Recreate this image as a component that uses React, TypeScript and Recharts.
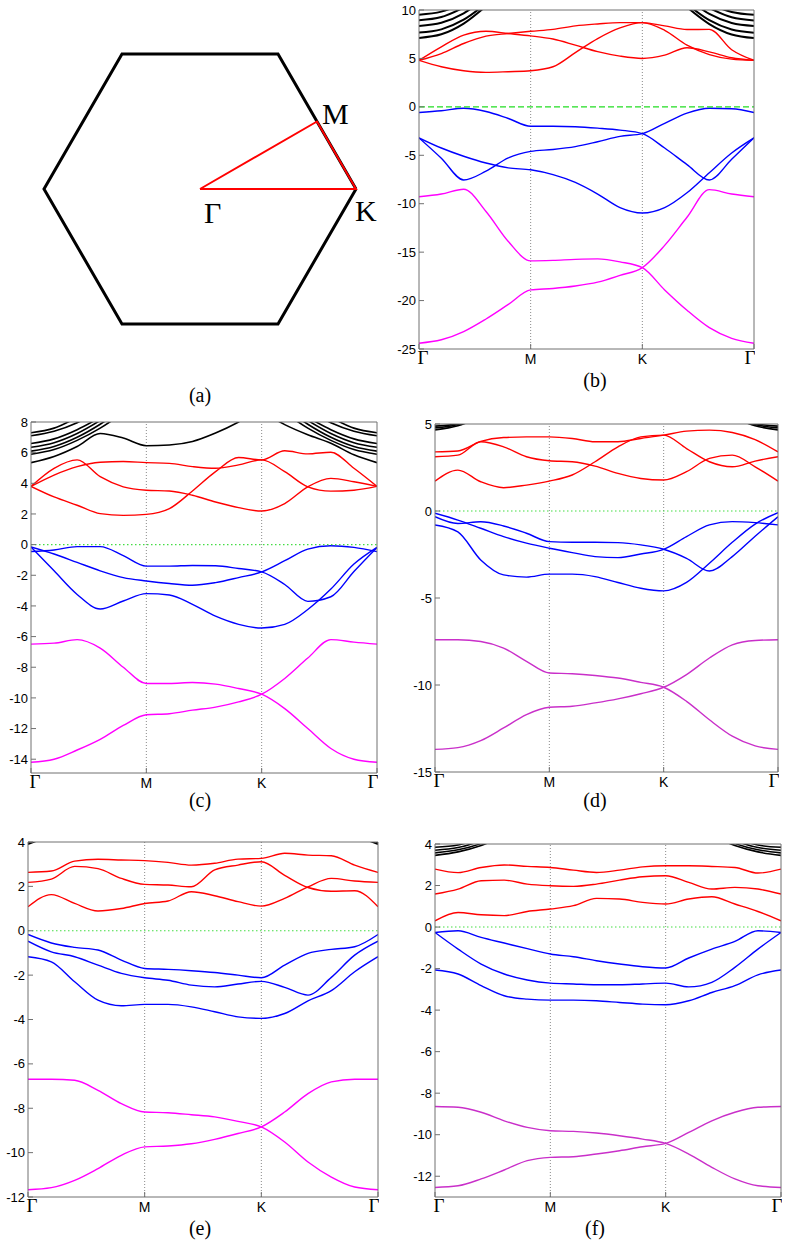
import React from 'react'
import { ComposedChart, LineChart, Line, XAxis, YAxis, ReferenceLine, Scatter } from 'recharts'

const _ = null

// k-path sampling, Γ -> M -> K -> Γ drawn with equal segment lengths
const K_PATH = [0, 0.2, 0.4, 0.6, 0.8, 1.0, 1.2, 1.4, 1.6, 1.8, 2.0, 2.2, 2.4, 2.6, 2.8, 3.0]
const K_TICKS = [0, 1, 2, 3]
const K_TICK_LABELS = ['Γ', 'M', 'K', 'Γ']
const FERMI_LEVEL = 0

// ---- panel (a): Brillouin zone
const BZ_HEX_X = [1, 0.5, -0.5, -1, -0.5, 0.5, 1]
const BZ_HEX_Y = [0, 0.866, 0.866, 0, -0.866, -0.866, 0]
const IBZ_X = [0, 0.75, 1, 0]
const IBZ_Y = [0, 0.433, 0, 0]
const BZ_POINT_NAMES = ['Γ', 'M', 'K']
const BZ_POINT_X = [0, 0.75, 1]
const BZ_POINT_Y = [0, 0.433, 0]

// ---- panel (b)
const bMagUpper = [-9.28, -9.0, -8.5, -10.8, -13.9, -15.9, -15.85, -15.75, -15.7, -16.0, -16.6, -18.9, -21.0, -22.8, -23.9, -24.4]
const bMagLower = [-24.4, -24.05, -23.2, -21.9, -20.4, -18.9, -18.75, -18.5, -18.1, -17.4, -16.6, -14.3, -11.4, -8.55, -9.0, -9.28]
const bBlue1 = [-0.58, -0.4, -0.15, -0.48, -1.2, -2.0, -2.0, -2.05, -2.2, -2.4, -2.77, -4.25, -5.96, -7.55, -5.4, -3.2]
const bBlue2 = [-3.2, -4.25, -5.1, -5.8, -6.3, -6.5, -7.0, -7.8, -9.0, -10.4, -10.96, -10.4, -8.87, -6.8, -4.76, -3.2]
const bBlue3 = [-3.2, -5.3, -7.55, -6.64, -5.27, -4.6, -4.4, -4.1, -3.6, -3.05, -2.77, -1.7, -0.65, -0.14, -0.2, -0.58]
const bRed1 = [4.8, 4.14, 3.73, 3.56, 3.63, 3.73, 4.14, 5.6, 7.05, 8.15, 8.7, 7.9, 6.37, 5.4, 4.93, 4.8]
const bRed2 = [4.8, 6.2, 7.4, 7.8, 7.57, 7.33, 7.0, 6.37, 5.7, 5.24, 5.0, 5.34, 6.1, 5.68, 5.07, 4.8]
const bRed3 = [4.8, 5.5, 6.54, 7.3, 7.57, 7.8, 8.0, 8.36, 8.56, 8.7, 8.7, 8.36, 7.98, 8.0, 5.9, 4.8]
const bBlackL1 = [9.52, 9.83, 10.7, _, _, _, _, _, _, _, _, _, _, _, _, _]
const bBlackL2 = [8.94, 9.27, 10.25, _, _, _, _, _, _, _, _, _, _, _, _, _]
const bBlackL3 = [8.36, 8.68, 9.66, 11.3, _, _, _, _, _, _, _, _, _, _, _, _]
const bBlackL4 = [7.67, 8.0, 9.0, 10.66, _, _, _, _, _, _, _, _, _, _, _, _]
const bBlackL5 = [7.12, 7.49, 8.6, 10.4, _, _, _, _, _, _, _, _, _, _, _, _]
const bBlackR1 = [_, _, _, _, _, _, _, _, _, _, _, _, _, 10.6, 9.8, 9.5]
const bBlackR2 = [_, _, _, _, _, _, _, _, _, _, _, _, _, 10.2, 9.25, 8.92]
const bBlackR3 = [_, _, _, _, _, _, _, _, _, _, _, _, 11.2, 9.6, 8.66, 8.36]
const bBlackR4 = [_, _, _, _, _, _, _, _, _, _, _, _, 10.6, 8.95, 7.98, 7.65]
const bBlackR5 = [_, _, _, _, _, _, _, _, _, _, _, _, 10.3, 8.55, 7.47, 7.1]

// ---- panel (c)
const cMagUpper = [-6.49, -6.43, -6.2, -6.75, -8.0, -9.06, -9.06, -9.0, -9.1, -9.39, -9.76, -10.7, -12.0, -13.3, -14.0, -14.2]
const cMagLower = [-14.2, -14.0, -13.4, -12.7, -11.8, -11.1, -11.03, -10.8, -10.6, -10.26, -9.76, -8.73, -7.4, -6.2, -6.36, -6.49]
const cBlue1 = [-0.45, -0.35, -0.13, -0.13, -0.72, -1.4, -1.4, -1.36, -1.38, -1.56, -1.78, -2.6, -3.7, -3.4, -1.75, -0.18]
const cBlue2 = [-0.15, -0.61, -1.16, -1.71, -2.15, -2.37, -2.54, -2.65, -2.48, -2.15, -1.78, -1.05, -0.29, -0.07, -0.18, -0.46]
const cBlue3 = [-0.15, -1.71, -3.25, -4.2, -3.68, -3.2, -3.29, -3.9, -4.67, -5.2, -5.44, -5.2, -4.23, -2.9, -1.27, -0.18]
const cRed1 = [3.8, 3.11, 2.57, 2.02, 1.91, 1.97, 2.35, 3.5, 4.76, 5.68, 5.53, 6.12, 5.92, 6.03, 4.98, 3.8]
const cRed2 = [3.8, 4.98, 5.53, 4.43, 3.77, 3.55, 3.5, 3.22, 2.78, 2.41, 2.19, 2.68, 3.77, 4.32, 4.1, 3.8]
const cRed3 = [3.8, 4.54, 5.09, 5.37, 5.42, 5.35, 5.3, 5.09, 4.98, 5.2, 5.53, 4.76, 3.77, 3.49, 3.55, 3.8]
const cBlackKink = [5.35, 5.75, 6.4, 7.25, 6.95, 6.45, 6.5, 6.73, 7.28, 8.0, 8.9, _, _, _, _, _]
const cBlackK2 = [_, _, _, _, _, _, _, _, _, _, 8.7, 7.83, 7.17, 6.62, 5.86, 5.35]
const cBlackL1 = [7.3, 7.6, 8.3, _, _, _, _, _, _, _, _, _, _, _, _, _]
const cBlackL2 = [7.1, 7.4, 7.95, 8.8, _, _, _, _, _, _, _, _, _, _, _, _]
const cBlackL3 = [6.6, 6.9, 7.5, 8.3, _, _, _, _, _, _, _, _, _, _, _, _]
const cBlackL4 = [6.35, 6.65, 7.25, 8.1, _, _, _, _, _, _, _, _, _, _, _, _]
const cBlackL5 = [6.1, 6.4, 7.0, 7.85, 8.9, _, _, _, _, _, _, _, _, _, _, _]
const cBlackL6 = [5.9, 6.2, 6.8, 7.6, 8.6, _, _, _, _, _, _, _, _, _, _, _]
const cBlackR1 = [_, _, _, _, _, _, _, _, _, _, _, _, _, 8.3, 7.6, 7.3]
const cBlackR2 = [_, _, _, _, _, _, _, _, _, _, _, _, 8.8, 7.95, 7.4, 7.1]
const cBlackR3 = [_, _, _, _, _, _, _, _, _, _, _, _, 8.3, 7.5, 6.9, 6.6]
const cBlackR4 = [_, _, _, _, _, _, _, _, _, _, _, _, 8.1, 7.25, 6.65, 6.35]
const cBlackR5 = [_, _, _, _, _, _, _, _, _, _, _, 8.9, 7.85, 7.0, 6.4, 6.1]
const cBlackR6 = [_, _, _, _, _, _, _, _, _, _, _, 8.6, 7.6, 6.8, 6.2, 5.9]

// ---- panel (d)
const dMagUpper = [-7.4, -7.4, -7.5, -7.88, -8.64, -9.31, -9.35, -9.45, -9.6, -9.85, -10.13, -10.94, -12.0, -12.94, -13.5, -13.7]
const dMagLower = [-13.7, -13.6, -13.2, -12.47, -11.7, -11.28, -11.22, -11.03, -10.8, -10.5, -10.13, -9.4, -8.45, -7.69, -7.44, -7.4]
const dBlue1 = [-0.33, -0.72, -0.62, -0.86, -1.28, -1.76, -1.8, -1.8, -1.82, -1.95, -2.2, -2.72, -3.45, -2.62, -1.45, -0.33]
const dBlue2 = [-0.13, -0.52, -0.99, -1.47, -1.85, -2.14, -2.39, -2.62, -2.68, -2.47, -2.2, -1.47, -0.8, -0.61, -0.67, -0.8]
const dBlue3 = [-0.8, -1.2, -2.81, -3.67, -3.8, -3.63, -3.63, -3.77, -4.11, -4.44, -4.59, -4.1, -3.0, -1.8, -0.75, -0.1]
const dRed1 = [3.4, 3.45, 4.0, 4.22, 4.26, 4.26, 4.17, 3.98, 3.98, 4.17, 4.36, 4.59, 4.65, 4.51, 4.1, 3.4]
const dRed2 = [3.12, 3.21, 3.98, 3.69, 3.12, 2.89, 2.83, 2.58, 2.16, 1.87, 1.78, 2.26, 3.02, 3.21, 2.54, 1.72]
const dRed3 = [1.72, 2.35, 1.68, 1.34, 1.49, 1.72, 2.07, 2.83, 3.69, 4.26, 4.36, 3.59, 2.83, 2.54, 2.87, 3.12]
const dBlackL1 = [4.88, 5.02, 5.6, _, _, _, _, _, _, _, _, _, _, _, _, _]
const dBlackL2 = [4.78, 4.97, 5.5, _, _, _, _, _, _, _, _, _, _, _, _, _]
const dBlackL3 = [4.66, 4.9, 5.4, _, _, _, _, _, _, _, _, _, _, _, _, _]
const dBlackR1 = [_, _, _, _, _, _, _, _, _, _, _, _, _, 5.6, 5.02, 4.88]
const dBlackR2 = [_, _, _, _, _, _, _, _, _, _, _, _, _, 5.5, 4.97, 4.78]
const dBlackR3 = [_, _, _, _, _, _, _, _, _, _, _, _, _, 5.4, 4.9, 4.66]

// ---- panel (e)
const eMagUpper = [-6.69, -6.69, -6.74, -7.19, -7.79, -8.17, -8.2, -8.29, -8.39, -8.59, -8.84, -9.52, -10.42, -11.1, -11.55, -11.67]
const eMagLower = [-11.67, -11.58, -11.25, -10.72, -10.12, -9.74, -9.7, -9.6, -9.4, -9.14, -8.84, -8.17, -7.34, -6.81, -6.69, -6.69]
const eBlue1 = [-0.17, -0.55, -0.75, -0.87, -1.32, -1.7, -1.74, -1.8, -1.88, -2.0, -2.12, -1.55, -1.02, -0.84, -0.72, -0.17]
const eBlue2 = [-0.47, -0.95, -1.17, -1.55, -1.92, -2.12, -2.23, -2.45, -2.53, -2.4, -2.28, -2.55, -2.9, -2.1, -1.1, -0.47]
const eBlue3 = [-1.17, -1.4, -2.3, -3.13, -3.38, -3.32, -3.32, -3.43, -3.65, -3.88, -3.95, -3.73, -3.16, -2.7, -1.85, -1.17]
const eRed1 = [2.63, 2.69, 3.14, 3.22, 3.19, 3.16, 3.08, 2.96, 3.04, 3.23, 3.26, 3.49, 3.41, 3.38, 2.96, 2.63]
const eRed2 = [2.18, 2.33, 2.9, 2.8, 2.36, 2.09, 2.06, 1.98, 2.74, 2.96, 3.11, 2.5, 1.95, 1.78, 1.8, 1.08]
const eRed3 = [1.08, 1.63, 1.23, 0.89, 1.0, 1.23, 1.34, 1.76, 1.58, 1.31, 1.11, 1.46, 1.98, 2.36, 2.24, 2.18]
const eBlackL1 = [3.9, 4.3, _, _, _, _, _, _, _, _, _, _, _, _, _, _]
const eBlackL2 = [3.96, 4.5, _, _, _, _, _, _, _, _, _, _, _, _, _, _]
const eBlackR1 = [_, _, _, _, _, _, _, _, _, _, _, _, _, _, 4.3, 3.9]
const eBlackR2 = [_, _, _, _, _, _, _, _, _, _, _, _, _, _, 4.5, 3.96]

// ---- panel (f)
const fMagUpper = [-8.64, -8.68, -8.92, -9.33, -9.65, -9.81, -9.84, -9.92, -10.05, -10.21, -10.42, -10.93, -11.57, -12.13, -12.46, -12.54]
const fMagLower = [-12.54, -12.46, -12.13, -11.7, -11.25, -11.09, -11.06, -10.93, -10.77, -10.58, -10.42, -9.89, -9.33, -8.92, -8.68, -8.64]
const fBlue1 = [-0.26, -0.18, -0.5, -0.77, -1.04, -1.3, -1.43, -1.62, -1.78, -1.91, -1.97, -1.49, -1.06, -0.69, -0.18, -0.26]
const fBlue2 = [-0.26, -1.06, -1.78, -2.26, -2.55, -2.7, -2.74, -2.78, -2.78, -2.74, -2.7, -2.88, -2.66, -1.94, -1.06, -0.26]
const fBlue3 = [-2.07, -2.26, -2.82, -3.31, -3.47, -3.52, -3.52, -3.55, -3.63, -3.71, -3.74, -3.55, -3.15, -2.82, -2.3, -2.07]
const fRed1 = [2.79, 2.62, 2.87, 2.99, 2.92, 2.87, 2.74, 2.63, 2.74, 2.9, 2.95, 2.95, 2.92, 2.87, 2.6, 2.79]
const fRed2 = [1.59, 1.83, 2.23, 2.26, 2.07, 1.99, 1.96, 2.07, 2.26, 2.42, 2.47, 2.15, 1.83, 1.91, 1.83, 1.59]
const fRed3 = [0.3, 0.7, 0.59, 0.55, 0.75, 0.87, 1.03, 1.38, 1.35, 1.19, 1.11, 1.35, 1.46, 1.11, 0.75, 0.3]
const fBlackL1 = [3.84, 3.95, 4.3, _, _, _, _, _, _, _, _, _, _, _, _, _]
const fBlackL2 = [3.7, 3.83, 4.15, _, _, _, _, _, _, _, _, _, _, _, _, _]
const fBlackL3 = [3.57, 3.72, 4.02, 4.5, _, _, _, _, _, _, _, _, _, _, _, _]
const fBlackL4 = [3.45, 3.62, 3.93, 4.4, _, _, _, _, _, _, _, _, _, _, _, _]
const fBlackR1 = [_, _, _, _, _, _, _, _, _, _, _, _, _, 4.3, 3.95, 3.84]
const fBlackR2 = [_, _, _, _, _, _, _, _, _, _, _, _, _, 4.15, 3.83, 3.7]
const fBlackR3 = [_, _, _, _, _, _, _, _, _, _, _, _, 4.5, 4.02, 3.72, 3.57]
const fBlackR4 = [_, _, _, _, _, _, _, _, _, _, _, _, 4.4, 3.93, 3.62, 3.45]

const RED = '#ff0000'
const BLUE = '#0000ff'
const MAGENTA = '#ff00ff'
const PURPLE = '#c92fc9'
const BLACK = '#000000'
const FRAME = '#707070'
const SANS = '"Liberation Sans", Arial, sans-serif'
const SERIF = '"Liberation Serif", "Times New Roman", serif'

type Band = { key: string; values: (number | null)[]; color: string }
type Rect = { x: number; y: number; w: number; h: number }

const YW = 40
const RW = 1
const TH = 10
const XH = 30

const KTick = (props: any) => {
  const { x, y, payload } = props
  const idx = K_TICKS.indexOf(payload.value)
  const label = K_TICK_LABELS[idx]
  const serif = label === 'Γ'
  const shift = idx === 0 ? 4 : idx === K_TICKS.length - 1 ? -4 : 0
  return (
    <text
      x={x + shift}
      y={y + 15}
      textAnchor="middle"
      fontFamily={serif ? SERIF : SANS}
      fontSize={serif ? 19 : 14}
      fill="#000"
    >
      {label}
    </text>
  )
}

const BandPanel = ({
  plot,
  yDomain,
  yTicks,
  bands,
  fermiDash,
  fermiColor,
  blackWidth,
}: {
  plot: Rect
  yDomain: [number, number]
  yTicks: number[]
  bands: Band[]
  fermiDash: string
  fermiColor: string
  blackWidth: number
}) => {
  const rows = K_PATH.map((x, i) => {
    const row: any = { x, ef: FERMI_LEVEL }
    bands.forEach((b) => {
      row[b.key] = b.values[i]
    })
    return row
  })

  return (
    <div style={{ position: 'absolute', left: plot.x - YW, top: plot.y - TH }}>
      <LineChart
        width={plot.w + YW + RW}
        height={plot.h + TH + XH}
        data={rows}
        margin={{ top: 0, right: 0, bottom: 0, left: 0 }}
      >
        <XAxis
          dataKey="x"
          type="number"
          domain={[0, 3]}
          ticks={K_TICKS}
          interval={0}
          allowDataOverflow
          tickSize={-5}
          tickMargin={5}
          height={XH}
          stroke={FRAME}
          tick={<KTick />}
        />
        <XAxis
          xAxisId="top"
          orientation="top"
          dataKey="x"
          type="number"
          domain={[0, 3]}
          ticks={K_TICKS}
          interval={0}
          allowDataOverflow
          tick={false}
          tickSize={-5}
          height={TH}
          stroke={FRAME}
        />
        <YAxis
          type="number"
          domain={yDomain}
          ticks={yTicks}
          interval={0}
          allowDataOverflow
          tickSize={-5}
          tickMargin={8}
          width={YW}
          stroke={FRAME}
          tick={{ fill: '#000', fontSize: 13, fontFamily: SANS }}
        />
        <YAxis
          yAxisId="right"
          orientation="right"
          type="number"
          domain={yDomain}
          ticks={yTicks}
          interval={0}
          allowDataOverflow
          tick={false}
          tickSize={-5}
          width={RW}
          stroke={FRAME}
        />
        <ReferenceLine x={1} stroke="#8a8a8a" strokeDasharray="1 2" />
        <ReferenceLine x={2} stroke="#8a8a8a" strokeDasharray="1 2" />
        {bands.map((b) => (
          <Line
            key={b.key}
            dataKey={b.key}
            type="monotone"
            stroke={b.color}
            strokeWidth={b.color === BLACK ? blackWidth : 1.4}
            dot={false}
            activeDot={false}
            isAnimationActive={false}
          />
        ))}
        <Line
          xAxisId="top"
          yAxisId="right"
          dataKey="ef"
          type="linear"
          stroke={fermiColor}
          strokeWidth={1.1}
          strokeDasharray={fermiDash}
          dot={false}
          activeDot={false}
          isAnimationActive={false}
        />
      </LineChart>
    </div>
  )
}

const mk = (prefix: string, list: [(number | null)[], string][]): Band[] =>
  list.map(([values, color], i) => ({ key: `${prefix}${i}`, values, color }))

const bandsB = mk('b', [
  [bBlackL1, BLACK], [bBlackL2, BLACK], [bBlackL3, BLACK], [bBlackL4, BLACK], [bBlackL5, BLACK],
  [bBlackR1, BLACK], [bBlackR2, BLACK], [bBlackR3, BLACK], [bBlackR4, BLACK], [bBlackR5, BLACK],
  [bRed1, RED], [bRed2, RED], [bRed3, RED],
  [bBlue1, BLUE], [bBlue2, BLUE], [bBlue3, BLUE],
  [bMagUpper, MAGENTA], [bMagLower, MAGENTA],
])
const bandsC = mk('c', [
  [cBlackKink, BLACK], [cBlackK2, BLACK],
  [cBlackL1, BLACK], [cBlackL2, BLACK], [cBlackL3, BLACK], [cBlackL4, BLACK], [cBlackL5, BLACK], [cBlackL6, BLACK],
  [cBlackR1, BLACK], [cBlackR2, BLACK], [cBlackR3, BLACK], [cBlackR4, BLACK], [cBlackR5, BLACK], [cBlackR6, BLACK],
  [cRed1, RED], [cRed2, RED], [cRed3, RED],
  [cBlue1, BLUE], [cBlue2, BLUE], [cBlue3, BLUE],
  [cMagUpper, MAGENTA], [cMagLower, MAGENTA],
])
const bandsD = mk('d', [
  [dBlackL1, BLACK], [dBlackL2, BLACK], [dBlackL3, BLACK],
  [dBlackR1, BLACK], [dBlackR2, BLACK], [dBlackR3, BLACK],
  [dRed1, RED], [dRed2, RED], [dRed3, RED],
  [dBlue1, BLUE], [dBlue2, BLUE], [dBlue3, BLUE],
  [dMagUpper, PURPLE], [dMagLower, PURPLE],
])
const bandsE = mk('e', [
  [eBlackL1, BLACK], [eBlackL2, BLACK], [eBlackR1, BLACK], [eBlackR2, BLACK],
  [eRed1, RED], [eRed2, RED], [eRed3, RED],
  [eBlue1, BLUE], [eBlue2, BLUE], [eBlue3, BLUE],
  [eMagUpper, MAGENTA], [eMagLower, MAGENTA],
])
const bandsF = mk('f', [
  [fBlackL1, BLACK], [fBlackL2, BLACK], [fBlackL3, BLACK], [fBlackL4, BLACK],
  [fBlackR1, BLACK], [fBlackR2, BLACK], [fBlackR3, BLACK], [fBlackR4, BLACK],
  [fRed1, RED], [fRed2, RED], [fRed3, RED],
  [fBlue1, BLUE], [fBlue2, BLUE], [fBlue3, BLUE],
  [fMagUpper, PURPLE], [fMagLower, PURPLE],
])

// label offsets for the BZ symbols (pixels from the point)
const BZ_LABEL_OFFSET: Record<string, [number, number]> = {
  'Γ': [4, 34],
  M: [5, 2],
  K: [-1, 32],
}

const BrillouinZone = () => {
  const hex = BZ_HEX_X.map((x, i) => ({ x, y: BZ_HEX_Y[i] }))
  const ibz = IBZ_X.map((x, i) => ({ x, y: IBZ_Y[i] }))
  const pts = BZ_POINT_NAMES.map((name, i) => ({ x: BZ_POINT_X[i], y: BZ_POINT_Y[i], name }))
  return (
    <div style={{ position: 'absolute', left: 0, top: 0 }}>
      <ComposedChart width={400} height={380} margin={{ top: 54, right: 44, bottom: 56, left: 44 }}>
        <XAxis dataKey="x" type="number" domain={[-1, 1]} hide />
        <YAxis dataKey="y" type="number" domain={[-0.866, 0.866]} hide />
        <Line
          data={hex}
          dataKey="y"
          type="linear"
          stroke={BLACK}
          strokeWidth={3}
          strokeLinejoin="miter"
          dot={false}
          activeDot={false}
          isAnimationActive={false}
        />
        <Line
          data={ibz}
          dataKey="y"
          type="linear"
          stroke={RED}
          strokeWidth={2}
          dot={false}
          activeDot={false}
          isAnimationActive={false}
        />
        <Scatter
          data={pts}
          isAnimationActive={false}
          shape={(p: any) => {
            const [dx, dy] = BZ_LABEL_OFFSET[p.payload.name]
            return (
              <text x={p.cx + dx} y={p.cy + dy} fontFamily={SERIF} fontSize={30} fill="#000">
                {p.payload.name}
              </text>
            )
          }}
        />
      </ComposedChart>
    </div>
  )
}

const Caption = ({ text, cx, cy }: { text: string; cx: number; cy: number }) => (
  <div
    style={{
      position: 'absolute',
      left: cx - 40,
      top: cy - 12,
      width: 80,
      textAlign: 'center',
      fontFamily: SERIF,
      fontSize: 20,
      lineHeight: '24px',
      color: '#000',
    }}
  >
    {text}
  </div>
)

export default function App() {
  return (
    <div
      style={{
        position: 'absolute',
        left: 0,
        top: 0,
        width: 787,
        height: 1253,
        overflow: 'hidden',
        background: '#fff',
      }}
    >
      <BrillouinZone />
      <BandPanel
        plot={{ x: 419, y: 10, w: 335, h: 339 }}
        yDomain={[-25, 10]}
        yTicks={[-25, -20, -15, -10, -5, 0, 5, 10]}
        bands={bandsB}
        fermiDash="6 3"
        fermiColor="#22dd22"
        blackWidth={2}
      />
      <BandPanel
        plot={{ x: 31, y: 422, w: 346, h: 351 }}
        yDomain={[-14.9, 8]}
        yTicks={[-14, -12, -10, -8, -6, -4, -2, 0, 2, 4, 6, 8]}
        bands={bandsC}
        fermiDash="1.5 2.5"
        fermiColor="#44dd44"
        blackWidth={1.6}
      />
      <BandPanel
        plot={{ x: 435, y: 424, w: 343, h: 348 }}
        yDomain={[-15, 5]}
        yTicks={[-15, -10, -5, 0, 5]}
        bands={bandsD}
        fermiDash="1.5 2.5"
        fermiColor="#44dd44"
        blackWidth={1.6}
      />
      <BandPanel
        plot={{ x: 28, y: 842, w: 350, h: 355 }}
        yDomain={[-12, 4]}
        yTicks={[-12, -10, -8, -6, -4, -2, 0, 2, 4]}
        bands={bandsE}
        fermiDash="1.5 2.5"
        fermiColor="#44dd44"
        blackWidth={1.6}
      />
      <BandPanel
        plot={{ x: 435, y: 844, w: 346, h: 353 }}
        yDomain={[-13, 4]}
        yTicks={[-12, -10, -8, -6, -4, -2, 0, 2, 4]}
        bands={bandsF}
        fermiDash="1.5 2.5"
        fermiColor="#44dd44"
        blackWidth={1.6}
      />
      <Caption text="(a)" cx={200} cy={395} />
      <Caption text="(b)" cx={595} cy={380} />
      <Caption text="(c)" cx={200} cy={800} />
      <Caption text="(d)" cx={595} cy={800} />
      <Caption text="(e)" cx={200} cy={1228} />
      <Caption text="(f)" cx={595} cy={1228} />
    </div>
  )
}
